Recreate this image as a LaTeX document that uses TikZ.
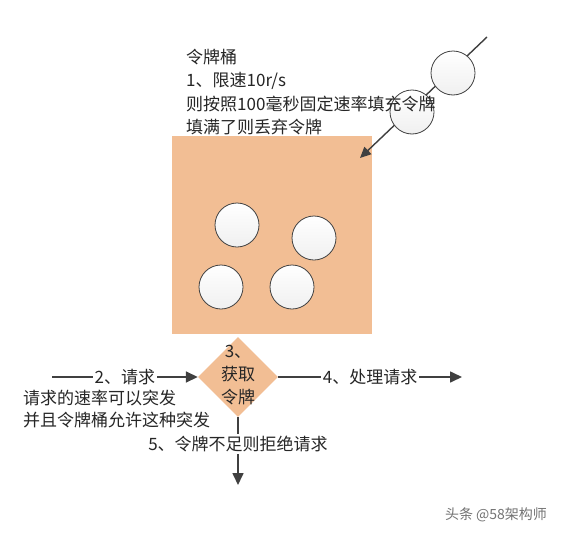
\documentclass[tikz,border=0pt]{standalone}
\usepackage{fontspec}
\setmainfont{Noto Sans CJK SC}
\usetikzlibrary{shapes.geometric,arrows.meta}
\definecolor{peach}{HTML}{F2BE94}
\definecolor{ink}{HTML}{262626}
\definecolor{arrowc}{HTML}{404040}
\tikzset{
  txt/.style={text=ink,font=\fontsize{17}{23}\selectfont,inner sep=1pt},
  token/.style={circle,draw=arrowc,line width=0.8pt,minimum size=44pt,inner sep=0pt,top color=white,bottom color=gray!12},
  arr/.style={draw=arrowc,line width=1.6pt,-{Triangle[length=12pt,width=11pt]}},
  lbl/.style={txt,fill=white,inner sep=2pt},
}
\begin{document}
\begin{tikzpicture}[x=1pt,y=-1pt]
\useasboundingbox[fill=white] (0,0) rectangle (561,535);
% bucket
\node[fill=peach,minimum width=200pt,minimum height=198pt,inner sep=0pt] (bucket) at (272,235) {};
\node[token] (c1) at (237,225) {};
\node[token] (c2) at (314,238) {};
\node[token] (c3) at (221,287) {};
\node[token] (c4) at (292,287) {};
% incoming tokens
\coordinate (s) at (487,37);
\coordinate (e) at (360,158);
\draw[draw=arrowc,line width=1.4pt,-{Triangle[length=11pt,width=10pt]}] (s) -- (e);
\node[token] (ta) at (453,73) {};
\node[token] (tb) at (412,112) {};
% top text
\node[txt,anchor=west,align=left,font=\fontsize{17}{23.3}\selectfont] (title) at (185,92)
  {令牌桶\\1、限速10r/s\\则按照100毫秒固定速率填充令牌\\填满了则丢弃令牌};
% diamond
\node[diamond,fill=peach,minimum width=80pt,minimum height=80pt,inner sep=0pt] (dia) at (238,377) {};
\node[txt,align=center] (diat) at (238,375) {3、\\获取\\令牌};
% connectors
\coordinate (l) at (52,377);
\coordinate (r) at (462,377);
\coordinate (d) at (238,485);
\draw[arr] (l) -- node[lbl] (l2) {2、请求} (dia.west);
\draw[arr] (dia.east) -- node[lbl] (l4) {4、处理请求} (r);
\draw[arr] (dia.south) -- node[lbl,pos=0.4] (l5) {5、令牌不足则拒绝请求} (d);
% left note
\node[txt,anchor=west,align=left,font=\fontsize{17}{22}\selectfont] (note) at (22,409)
  {请求的速率可以突发\\并且令牌桶允许这种突发};
% watermark
\node[text=gray!90!black,font=\fontsize{14}{16}\selectfont,inner sep=0pt] (wm) at (496,515) {头条 @58架构师};
\end{tikzpicture}
\end{document}
